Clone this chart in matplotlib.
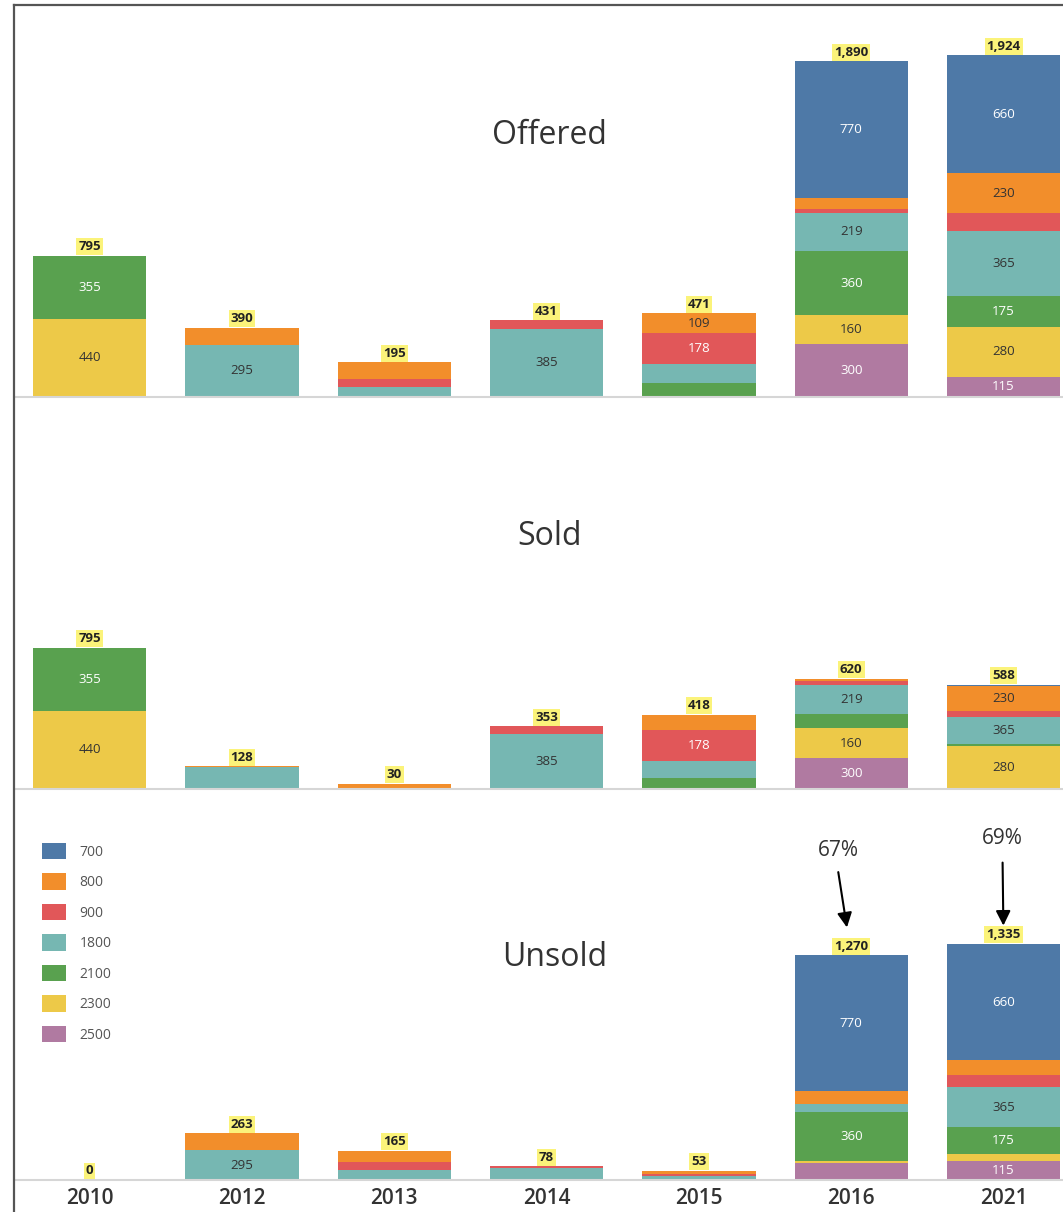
import matplotlib
matplotlib.use('Agg')
import matplotlib.pyplot as plt
import matplotlib.patches as mpatches
from matplotlib.lines import Line2D
import numpy as np

plt.rcParams['font.family'] = ['Open Sans', 'DejaVu Sans']

years = ['2010', '2012', '2013', '2014', '2015', '2016', '2021']
classes = ['700', '800', '900', '1800', '2100', '2300', '2500']
colors = ['#4e79a7', '#f28e2b', '#e15759', '#76b7b2', '#59a14f', '#edc948', '#b07aa1']
label_colors = ['white', '#333333', 'white', '#333333', 'white', '#333333', 'white']

# segment heights (bottom of stack = last class), one list per class
offered_700 = [0, 0, 0, 0, 0, 770, 660]
offered_800 = [0, 95, 95, 0, 109, 61, 230]
offered_900 = [0, 0, 45, 46, 178, 20, 99]
offered_1800 = [0, 295, 55, 385, 104, 219, 365]
offered_2100 = [355, 0, 0, 0, 80, 360, 175]
offered_2300 = [440, 0, 0, 0, 0, 160, 280]
offered_2500 = [0, 0, 0, 0, 0, 300, 115]

sold_700 = [0, 0, 0, 0, 0, 0, 6]
sold_800 = [0, 3, 30, 0, 88, 12, 142]
sold_900 = [0, 0, 0, 43, 170, 22, 32]
sold_1800 = [0, 125, 0, 310, 98, 163, 152]
sold_2100 = [355, 0, 0, 0, 62, 81, 13]
sold_2300 = [440, 0, 0, 0, 0, 167, 243]
sold_2500 = [0, 0, 0, 0, 0, 175, 0]

unsold_700 = [0, 0, 0, 0, 0, 770, 660]
unsold_800 = [0, 95, 62, 0, 18, 70, 81]
unsold_900 = [0, 0, 45, 8, 15, 0, 70]
unsold_1800 = [0, 168, 58, 70, 12, 47, 225]
unsold_2100 = [0, 0, 0, 0, 8, 274, 152]
unsold_2300 = [0, 0, 0, 0, 0, 15, 38]
unsold_2500 = [0, 0, 0, 0, 0, 94, 109]

# numbers printed inside the segments (None = no label)
N = None
offered_labels = [
    [N, N, N, N, N, 770, 660],
    [N, N, N, N, 109, N, 230],
    [N, N, N, N, 178, N, N],
    [N, 295, N, 385, N, 219, 365],
    [355, N, N, N, N, 360, 175],
    [440, N, N, N, N, 160, 280],
    [N, N, N, N, N, 300, 115],
]
sold_labels = [
    [N, N, N, N, N, N, N],
    [N, N, N, N, N, N, 230],
    [N, N, N, N, 178, N, N],
    [N, N, N, 385, N, 219, 365],
    [355, N, N, N, N, N, N],
    [440, N, N, N, N, 160, 280],
    [N, N, N, N, N, 300, N],
]
unsold_labels = [
    [N, N, N, N, N, 770, 660],
    [N, N, N, N, N, N, N],
    [N, N, N, N, N, N, N],
    [N, 295, N, N, N, N, 365],
    [N, N, N, N, N, 360, 175],
    [N, N, N, N, N, N, N],
    [N, N, N, N, N, N, 115],
]

offered_totals = [795, 390, 195, 431, 471, 1890, 1924]
sold_totals = [795, 128, 30, 353, 418, 620, 588]
unsold_totals = [0, 263, 165, 78, 53, 1270, 1335]

panels = [
    ("Offered", [offered_700, offered_800, offered_900, offered_1800,
                 offered_2100, offered_2300, offered_2500], offered_labels, offered_totals, 0.51, 0.668),
    ("Sold", [sold_700, sold_800, sold_900, sold_1800,
              sold_2100, sold_2300, sold_2500], sold_labels, sold_totals, 0.51, 0.643),
    ("Unsold", [unsold_700, unsold_800, unsold_900, unsold_1800,
                unsold_2100, unsold_2300, unsold_2500], unsold_labels, unsold_totals, 0.515, 0.570),
]

fig = plt.figure(figsize=(10.63, 12.12), dpi=100)
fig.patch.set_facecolor('white')

H = 1212.0
bounds = [(5, 397), (397, 789), (789, 1180)]
x = np.arange(len(years))
px2pt = 0.72

axes = []
for (title, series, labels, totals, tx, ty), (top_px, bot_px) in zip(panels, bounds):
    ax = fig.add_axes([15 / 1063, (H - bot_px) / H, 1 - 15 / 1063, (bot_px - top_px) / H])
    axes.append(ax)
    bottom = np.zeros(len(years))
    # stack from the last class (2500) at the bottom up to 700 on top
    for k in range(len(classes) - 1, -1, -1):
        vals = np.array(series[k], dtype=float)
        ax.bar(x, vals, bottom=bottom, width=0.745, color=colors[k], edgecolor='none')
        for i, lab in enumerate(labels[k]):
            if lab is not None:
                ax.text(x[i], bottom[i] + vals[i] / 2, f"{lab}", ha='center', va='center',
                        fontsize=9.5, color=label_colors[k])
        bottom += vals
    for i, t in enumerate(totals):
        ax.annotate(f"{t:,}", xy=(x[i], bottom[i]), xytext=(0, 1.8), textcoords='offset points',
                    ha='center', va='bottom', fontsize=9.5, fontweight='bold', color='#222222',
                    bbox=dict(boxstyle='square,pad=0.15', facecolor='#fbf37a', edgecolor='none'))
    ax.set_xlim(-0.49, 6.39)
    ax.set_ylim(0, 2208)
    ax.set_yticks([])
    for name, sp in ax.spines.items():
        sp.set_visible(name == 'bottom')
    ax.spines['bottom'].set_color('#d6d6d6')
    ax.spines['bottom'].set_linewidth(1.5)
    ax.set_xticks(x)
    ax.tick_params(axis='x', length=0, pad=6, labelsize=15, labelcolor='#333333')
    ax.set_xticklabels(years if title == "Unsold" else [''] * len(years), fontweight='semibold')
    ax.text(tx, ty, title, transform=ax.transAxes, ha='center', va='center',
            fontsize=23, color='#333333')
    ax.set_facecolor('none')
    ax.patch.set_alpha(0)
    if title == "Unsold":
        unsold_tops = bottom.copy()

ax_u = axes[2]

# percentage call-outs on the unsold bars
callouts = [(5, "67%", (-13, 105), (-13, 83), 28), (6, "69%", (-1, 105), (-1, 81), 18)]
for i, txt, toff, aoff, tip in callouts:
    ax_u.annotate(txt, xy=(x[i], unsold_tops[i]), xytext=(toff[0] * px2pt, toff[1] * px2pt),
                  textcoords='offset points', ha='center', va='center', fontsize=15, color='#333333')
    ax_u.annotate('', xy=(x[i], unsold_tops[i]), xytext=(aoff[0] * px2pt, aoff[1] * px2pt),
                  textcoords='offset points',
                  arrowprops=dict(arrowstyle='-|>', color='black', lw=1.5, mutation_scale=22,
                                  shrinkA=0, shrinkB=tip * px2pt))

# legend
handles = [mpatches.Patch(facecolor=c, edgecolor='none', label=l) for c, l in zip(colors, classes)]
ax_u.legend(handles=handles, loc='upper left', bbox_to_anchor=((42 - 15) / 1048, (1180 - 843) / 391),
            frameon=False, fontsize=10, labelcolor='#555555', handlelength=1.7, handleheight=1.45,
            labelspacing=0.98, handletextpad=1.0, borderpad=0, borderaxespad=0)

# outer frame (left and top edges)
fig.add_artist(Line2D([14 / 1063, 14 / 1063], [0, (H - 5) / H], color='#555555', lw=1.6))
fig.add_artist(Line2D([14 / 1063, 1], [(H - 5) / H, (H - 5) / H], color='#555555', lw=1.6))

fig.savefig('out.png', dpi=100, facecolor='white')
